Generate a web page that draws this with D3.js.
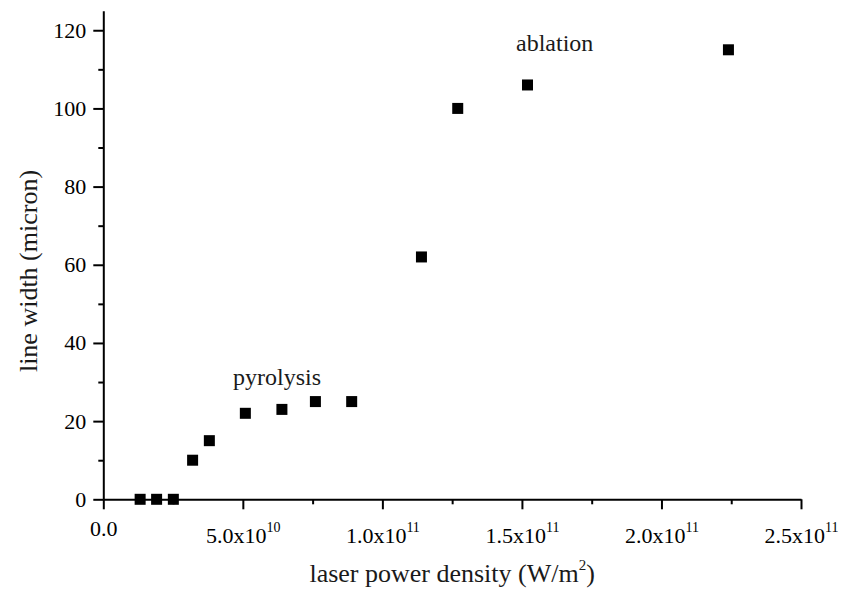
<!DOCTYPE html>
<html>
<head>
<meta charset="utf-8">
<script src="https://cdn.jsdelivr.net/npm/d3@7"></script>
<style>
  body { margin: 0; background: #fff; }
  svg, svg text { font-family: "Liberation Serif", "Times New Roman", serif; }
</style>
</head>
<body>
<div class="chart"></div>
<script>
// measured points: laser power density (W/m^2) vs line width (micron)
const powerDensity = [1.32e10, 1.91e10, 2.51e10, 3.2e10, 3.8e10, 5.09e10, 6.4e10, 7.6e10, 8.9e10, 1.14e11, 1.27e11, 1.52e11, 2.24e11]
const lineWidth = [0, 0, 0, 10, 15, 22, 23, 25, 25, 62, 100, 106, 115]

const xTicks = [0, 5e10, 1e11, 1.5e11, 2e11, 2.5e11]
const xTickMantissa = ["0.0", "5.0", "1.0", "1.5", "2.0", "2.5"]
const xTickExponent = [null, "10", "11", "11", "11", "11"]
const xMinorTicks = [2.5e10, 7.5e10, 1.25e11, 1.75e11, 2.25e11]
const yTicks = [0, 20, 40, 60, 80, 100, 120]
const yMinorTicks = [10, 30, 50, 70, 90, 110]

const notes = [
  {text: "pyrolysis", x: 4.65e10, y: 29.2},
  {text: "ablation", x: 1.479e11, y: 114.7}
]

const width = 841
const height = 596
const margin = {top: 10.7, right: 40, bottom: 96.7, left: 103.3}

const svg = d3.select(".chart")
  .append("svg")
  .attr("width", width)
  .attr("height", height)

const xScale = d3.scaleLinear()
  .domain([0, 2.5e11])
  .range([margin.left, 801])

const yScale = d3.scaleLinear()
  .domain([0, 125])
  .range([height - margin.bottom, margin.top])

// x axis, major + minor ticks
const xAxis = svg.append("g")
  .attr("transform", "translate(0," + yScale(0) + ")")
  .call(d3.axisBottom(xScale).tickValues(xTicks).tickSize(10).tickSizeOuter(0).tickFormat(""))
svg.append("g")
  .attr("transform", "translate(0," + yScale(0) + ")")
  .call(d3.axisBottom(xScale).tickValues(xMinorTicks).tickSize(5).tickSizeOuter(0).tickFormat(""))
  .select(".domain").remove()

xAxis.selectAll(".tick text").remove()
xAxis.selectAll(".tick").each(function(d, i) {
  const t = d3.select(this).append("text")
    .attr("fill", "#000")
    .attr("text-anchor", "middle")
    .attr("font-size", 22)
    .attr("y", xTickExponent[i] ? 43.5 : 37)
  t.append("tspan").text(xTickMantissa[i] + (xTickExponent[i] ? "x10" : ""))
  if (xTickExponent[i]) {
    t.append("tspan").attr("font-size", 14).attr("dy", -11).text(xTickExponent[i])
  }
})

// y axis
const yAxis = svg.append("g")
  .attr("transform", "translate(" + margin.left + ",0)")
  .call(d3.axisLeft(yScale).tickValues(yTicks).tickSize(10).tickSizeOuter(0).tickPadding(7))
svg.append("g")
  .attr("transform", "translate(" + margin.left + ",0)")
  .call(d3.axisLeft(yScale).tickValues(yMinorTicks).tickSize(5).tickSizeOuter(0).tickFormat(""))
  .select(".domain").remove()

yAxis.selectAll(".tick text")
  .attr("font-size", 22)
  .attr("fill", "#000")

// let the serif font from the stylesheet through
svg.selectAll("g").attr("font-family", null).attr("font-size", null)

svg.selectAll(".domain, .tick line")
  .attr("stroke", "#000")
  .attr("stroke-width", 2)

// points
const sq = 11
svg.append("g")
  .selectAll("rect")
  .data(powerDensity.map((x, i) => ({x: x, y: lineWidth[i]})))
  .join("rect")
  .attr("x", d => xScale(d.x) - sq / 2)
  .attr("y", d => yScale(d.y) - sq / 2)
  .attr("width", sq)
  .attr("height", sq)
  .attr("fill", "#000")

// annotations
svg.append("g")
  .selectAll("text")
  .data(notes)
  .join("text")
  .attr("x", d => xScale(d.x))
  .attr("y", d => yScale(d.y))
  .attr("font-size", 24)
  .attr("fill", "#1a1a1a")
  .text(d => d.text)

// axis titles
const xTitle = svg.append("text")
  .attr("x", (xScale.range()[0] + xScale.range()[1]) / 2)
  .attr("y", 582)
  .attr("text-anchor", "middle")
  .attr("font-size", 26)
  .attr("fill", "#1a1a1a")
xTitle.append("tspan").text("laser power density (W/m")
xTitle.append("tspan").attr("font-size", 15).attr("dy", -12).text("2")
xTitle.append("tspan").attr("dy", 12).text(")")

svg.append("text")
  .attr("transform", "translate(37,271) rotate(-90)")
  .attr("text-anchor", "middle")
  .attr("font-size", 26)
  .attr("fill", "#1a1a1a")
  .text("line width (micron)")
</script>
</body>
</html>
